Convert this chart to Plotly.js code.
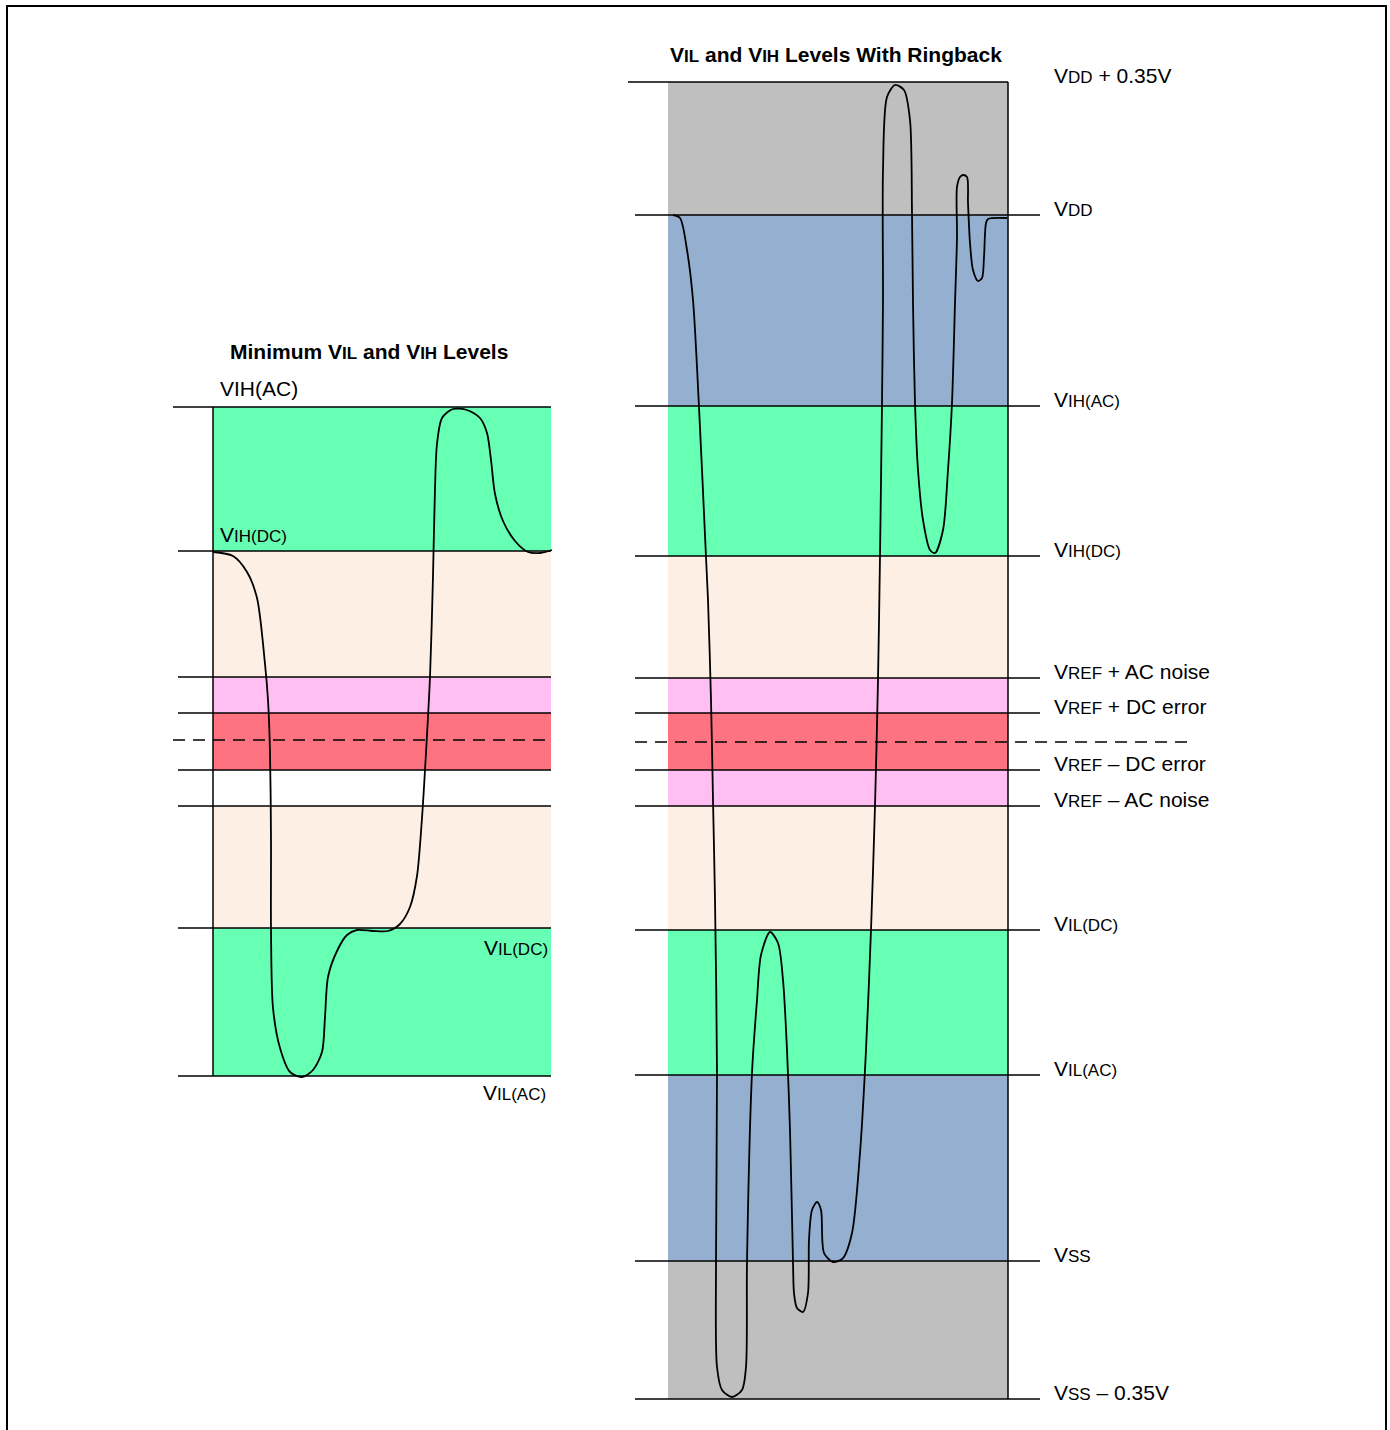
<!DOCTYPE html>
<html>
<head>
<meta charset="utf-8">
<script src="https://cdn.plot.ly/plotly-3.0.1.min.js"></script>
<style>html,body{margin:0;padding:0;background:#fff;}#chart{width:1390px;height:1430px;}</style>
</head>
<body>
<div id="chart"></div>
<script>
// ---- Data (schematic level units, y up; x = schematic time units) ----
// Left diagram: "Minimum VIL and VIH Levels"
const leftLevelNames = ["VIH(AC)", "VIH(DC)", "VREF+AC", "VREF+DC", "VREF", "VREF-DC", "VREF-AC", "VIL(DC)", "VIL(AC)"];
const leftLevels     = [1023, 879, 753, 717, 690, 660, 624, 502, 354];

// Right diagram: "VIL and VIH Levels With Ringback"
const rightLevelNames = ["VDD+0.35V", "VDD", "VIH(AC)", "VIH(DC)", "VREF+AC", "VREF+DC", "VREF", "VREF-DC", "VREF-AC", "VIL(DC)", "VIL(AC)", "VSS", "VSS-0.35V"];
const rightLevels     = [1348, 1215, 1024, 874, 752, 717, 688, 660, 624, 500, 355, 169, 31];

// Left waveform (time, level)
const leftWaveT = [213,233,247,257,265,268,270,271,271,273,280,290,302,313,322,325,328,337,347,357,373,388,400,410,417,422,425,430,433,435,437,442,453,467,480,487,491,495,503,515,528,540,552];
const leftWaveV = [878,874,858,832,766,730,678,590,501,422,382,358,353,360,378,413,453,479,495,500,499,499,506,523,554,612,660,753,854,942,986,1012,1021,1020,1012,997,970,936,909,889,878,877,880];

// Right waveform with ringback (time, level)
const rightWaveT = [673,680,687,693,699,706,708,711,713,715,717,716,717,722,732,742,746,747,752,757,761,770,778,783,787,790,793,794,797,803,808,809,812,817,821,824,833,843,852,860,866,871,875,878,880,882,883,883,887,895,904,910,912,913,915,918,923,930,935,943,948,952,955,957,957,960,963,967,968,970,973,978,982,984,986,988,1007];
const rightWaveV = [1215,1212,1180,1130,1023,873,830,730,630,530,357,168,63,40,33,40,63,168,357,430,475,498,487,450,380,300,168,137,122,118,137,190,220,228,220,177,168,172,197,277,380,500,624,750,874,1027,1130,1260,1333,1345,1340,1310,1217,1127,1027,960,910,880,877,900,960,1027,1127,1193,1243,1253,1255,1253,1227,1187,1160,1149,1152,1173,1207,1211,1212];

// Band colours between consecutive levels
const leftBandColors  = ["#66FFB3", "#FDEFE3", "#FFBFF2", "#FF7380", "#FF7380", "#FFFFFF", "#FDEFE3", "#66FFB3"];
const rightBandColors = ["#BFBFBF", "#95AFD0", "#66FFB3", "#FDEFE3", "#FFBFF2", "#FF7380", "#FF7380", "#FFBFF2", "#FDEFE3", "#66FFB3", "#95AFD0", "#BFBFBF"];

// Labels
const S = t => '<span style="font-size:17px">' + t + '</span>';
const rightLabels = ["V" + S("DD") + " + 0.35V", "V" + S("DD"), "V" + S("IH(AC)"), "V" + S("IH(DC)"),
  "V" + S("REF") + " + AC noise", "V" + S("REF") + " + DC error", "", "V" + S("REF") + " – DC error", "V" + S("REF") + " – AC noise",
  "V" + S("IL(DC)"), "V" + S("IL(AC)"), "V" + S("SS"), "V" + S("SS") + " – 0.35V"];
const leftTitle  = "<b>Minimum V" + S("IL") + " and V" + S("IH") + " Levels</b>";
const rightTitle = "<b>V" + S("IL") + " and V" + S("IH") + " Levels With Ringback</b>";

// ---- Layout geometry ----
const L = {x0: 213, x1: 551, lineStart: 178};
const R = {x0: 668, x1: 1008, lineStart: 635, lineEnd: 1040, labelX: 1052, dashEnd: 1195};

const shapes = [];
// frame
shapes.push({type: "rect", xref: "x", yref: "y", x0: 7, x1: 1386, y0: -30, y1: 1424, line: {color: "#000", width: 2}, fillcolor: "rgba(0,0,0,0)", layer: "below"});

// bands
for (let i = 0; i < leftBandColors.length; i++) {
  shapes.push({type: "rect", xref: "x", yref: "y", x0: L.x0, x1: L.x1, y0: leftLevels[i + 1], y1: leftLevels[i], fillcolor: leftBandColors[i], line: {width: 0}, layer: "below"});
}
for (let i = 0; i < rightBandColors.length; i++) {
  shapes.push({type: "rect", xref: "x", yref: "y", x0: R.x0, x1: R.x1, y0: rightLevels[i + 1], y1: rightLevels[i], fillcolor: rightBandColors[i], line: {width: 0}, layer: "below"});
}
// level lines left
leftLevels.forEach((v, i) => {
  const dashed = leftLevelNames[i] === "VREF";
  const start = (i === 0 || dashed) ? L.lineStart - 5 : L.lineStart;
  shapes.push({type: "line", xref: "x", yref: "y", x0: start, x1: L.x1, y0: v, y1: v,
    line: {color: "#000", width: 1.5, dash: dashed ? "12px,8px" : "solid"}, layer: "above"});
});
// level lines right
rightLevels.forEach((v, i) => {
  const dashed = rightLevelNames[i] === "VREF";
  const end = i === 0 ? R.x1 : (dashed ? R.dashEnd : R.lineEnd);
  const start = i === 0 ? R.lineStart - 7 : R.lineStart;
  shapes.push({type: "line", xref: "x", yref: "y", x0: start, x1: end, y0: v, y1: v,
    line: {color: "#000", width: 1.5, dash: dashed ? "12px,8px" : "solid"}, layer: "above"});
});
// box verticals
shapes.push({type: "line", xref: "x", yref: "y", x0: L.x0, x1: L.x0, y0: leftLevels[leftLevels.length - 1], y1: leftLevels[0], line: {color: "#000", width: 1.5}, layer: "above"});
shapes.push({type: "line", xref: "x", yref: "y", x0: R.x1, x1: R.x1, y0: rightLevels[rightLevels.length - 1], y1: rightLevels[0], line: {color: "#000", width: 1.5}, layer: "above"});

const font = {family: "Liberation Sans, Arial, Helvetica, sans-serif", size: 21, color: "#000"};
const annotations = [];
rightLabels.forEach((t, i) => {
  if (!t) return;
  annotations.push({x: R.labelX, y: rightLevels[i] + 7, xref: "x", yref: "y", text: t, showarrow: false, xanchor: "left", yanchor: "middle", font: font});
});
annotations.push({x: 218, y: leftLevels[0] + 19, xref: "x", yref: "y", text: "VIH(AC)", showarrow: false, xanchor: "left", yanchor: "middle", font: font});
annotations.push({x: 218, y: leftLevels[1] + 17, xref: "x", yref: "y", text: "V" + S("IH(DC)"), showarrow: false, xanchor: "left", yanchor: "middle", font: font});
annotations.push({x: 550, y: leftLevels[7] - 19, xref: "x", yref: "y", text: "V" + S("IL(DC)"), showarrow: false, xanchor: "right", yanchor: "middle", font: font});
annotations.push({x: 548, y: leftLevels[8] - 16, xref: "x", yref: "y", text: "V" + S("IL(AC)"), showarrow: false, xanchor: "right", yanchor: "middle", font: font});
annotations.push({x: 369, y: leftLevels[0] + 56, xref: "x", yref: "y", text: leftTitle, showarrow: false, xanchor: "center", yanchor: "middle", font: font});
annotations.push({x: 836, y: rightLevels[0] + 28, xref: "x", yref: "y", text: rightTitle, showarrow: false, xanchor: "center", yanchor: "middle", font: font});

const traces = [
  {x: leftWaveT, y: leftWaveV, type: "scatter", mode: "lines", line: {color: "#000", width: 1.8, shape: "spline", smoothing: 0.8}, hoverinfo: "skip"},
  {x: rightWaveT, y: rightWaveV, type: "scatter", mode: "lines", line: {color: "#000", width: 1.8, shape: "spline", smoothing: 0.8}, hoverinfo: "skip"}
];

const layout = {
  width: 1390, height: 1430,
  margin: {l: 0, r: 0, t: 0, b: 0},
  paper_bgcolor: "#fff", plot_bgcolor: "#fff",
  showlegend: false,
  xaxis: {range: [0, 1390], visible: false, fixedrange: true},
  yaxis: {range: [0, 1430], visible: false, fixedrange: true},
  shapes: shapes,
  annotations: annotations
};
Plotly.newPlot("chart", traces, layout, {staticPlot: true, displayModeBar: false});
</script>
</body>
</html>
